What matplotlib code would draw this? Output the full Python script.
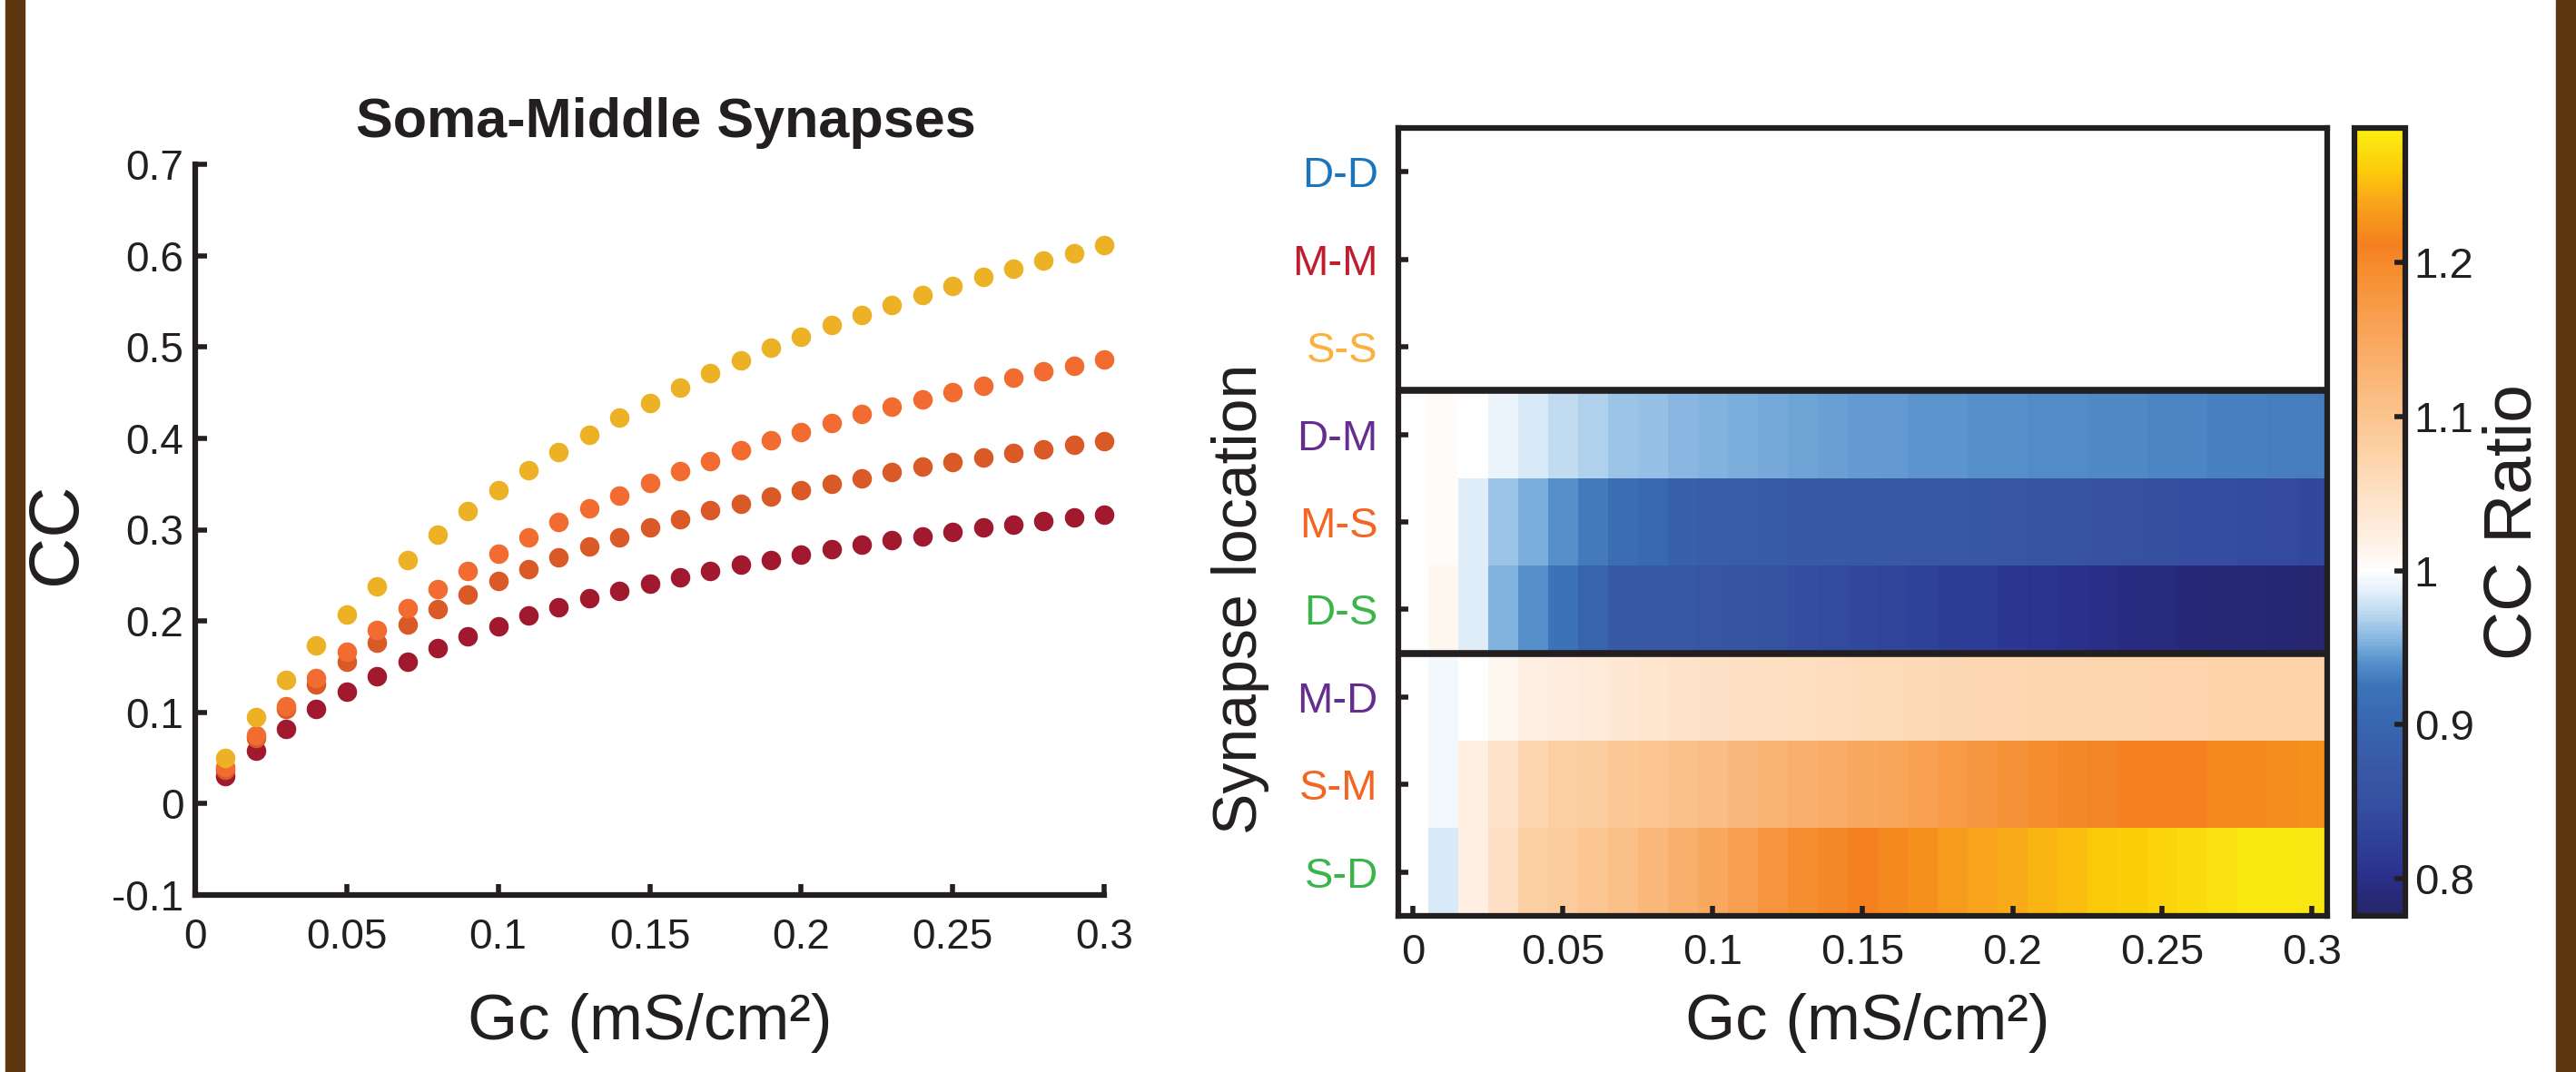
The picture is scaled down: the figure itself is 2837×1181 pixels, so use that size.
import numpy as np
import matplotlib
matplotlib.use("Agg")
import matplotlib.pyplot as plt
from matplotlib.colors import LinearSegmentedColormap
from matplotlib.patches import Rectangle

plt.rcParams['font.family'] = ['Liberation Sans', 'DejaVu Sans']
INK = '#231F20'

# ---- left panel: CC vs Gc, soma-middle synapses
gc = [0.01, 0.02, 0.03, 0.04, 0.05, 0.06, 0.07, 0.08, 0.09, 0.10,
      0.11, 0.12, 0.13, 0.14, 0.15, 0.16, 0.17, 0.18, 0.19, 0.20,
      0.21, 0.22, 0.23, 0.24, 0.25, 0.26, 0.27, 0.28, 0.29, 0.30]

cc_yellow = [0.050, 0.095, 0.136, 0.173, 0.207, 0.238, 0.267, 0.295, 0.320, 0.343,
             0.365, 0.385, 0.404, 0.423, 0.439, 0.456, 0.471, 0.485, 0.499, 0.511,
             0.524, 0.535, 0.546, 0.557, 0.567, 0.577, 0.586, 0.595, 0.603, 0.612]
cc_orange = [0.040, 0.075, 0.107, 0.138, 0.166, 0.190, 0.214, 0.235, 0.255, 0.274,
             0.292, 0.308, 0.323, 0.337, 0.351, 0.364, 0.375, 0.387, 0.398, 0.407,
             0.417, 0.427, 0.435, 0.443, 0.451, 0.458, 0.466, 0.473, 0.479, 0.486]
cc_darkorange = [0.037, 0.072, 0.104, 0.131, 0.155, 0.176, 0.196, 0.213, 0.229, 0.244,
                 0.257, 0.270, 0.282, 0.292, 0.302, 0.311, 0.321, 0.328, 0.336, 0.343,
                 0.350, 0.356, 0.363, 0.369, 0.374, 0.379, 0.384, 0.388, 0.393, 0.397]
cc_red = [0.030, 0.058, 0.082, 0.104, 0.123, 0.140, 0.155, 0.170, 0.183, 0.194,
          0.206, 0.215, 0.225, 0.233, 0.241, 0.248, 0.255, 0.262, 0.267, 0.273,
          0.279, 0.284, 0.289, 0.293, 0.298, 0.302, 0.305, 0.309, 0.313, 0.316]

left_xticks = [0, 0.05, 0.1, 0.15, 0.2, 0.25, 0.3]
left_xticklabels = ['0', '0.05', '0.1', '0.15', '0.2', '0.25', '0.3']
left_yticks = [-0.1, 0, 0.1, 0.2, 0.3, 0.4, 0.5, 0.6, 0.7]
left_yticklabels = ['-0.1', '0', '0.1', '0.2', '0.3', '0.4', '0.5', '0.6', '0.7']

# ---- right panel: CC ratio heatmap (columns Gc = 0 .. 0.30)
row_names = ['D-D', 'M-M', 'S-S', 'D-M', 'M-S', 'D-S', 'M-D', 'S-M', 'S-D']
row_colors = ['#1B75BC', '#BE1E2D', '#FBB040', '#662D91', '#F26522',
              '#39B54A', '#662D91', '#F26522', '#39B54A']

r_DD = [1.001, 1.001, 1.001, 1.001, 1.001, 1.001, 1.001, 1.001, 1.001, 1.001, 1.001,
        1.001, 1.001, 1.001, 1.001, 1.001, 1.001, 1.001, 1.001, 1.001, 1.001,
        1.001, 1.001, 1.001, 1.001, 1.001, 1.001, 1.001, 1.001, 1.001, 1.001]
r_MM = [1.001, 1.001, 1.001, 1.001, 1.001, 1.001, 1.001, 1.001, 1.001, 1.001, 1.001,
        1.001, 1.001, 1.001, 1.001, 1.001, 1.001, 1.001, 1.001, 1.001, 1.001,
        1.001, 1.001, 1.001, 1.001, 1.001, 1.001, 1.001, 1.001, 1.001, 1.001]
r_SS = [1.001, 1.001, 1.001, 1.001, 1.001, 1.001, 1.001, 1.001, 1.001, 1.001, 1.001,
        1.001, 1.001, 1.001, 1.001, 1.001, 1.001, 1.001, 1.001, 1.001, 1.001,
        1.001, 1.001, 1.001, 1.001, 1.001, 1.001, 1.001, 1.001, 1.001, 1.001]
r_DM = [1.000, 1.004, 1.000, 0.990, 0.982, 0.975, 0.968, 0.963, 0.960, 0.957, 0.955,
        0.952, 0.950, 0.948, 0.946, 0.945, 0.944, 0.943, 0.942, 0.941, 0.940,
        0.939, 0.938, 0.937, 0.936, 0.935, 0.934, 0.933, 0.932, 0.931, 0.930]
r_MS = [1.000, 1.004, 0.985, 0.963, 0.952, 0.940, 0.928, 0.912, 0.905, 0.890, 0.885,
        0.880, 0.878, 0.876, 0.875, 0.874, 0.872, 0.870, 0.868, 0.866, 0.864,
        0.862, 0.860, 0.857, 0.855, 0.852, 0.849, 0.846, 0.843, 0.840, 0.838]
r_DS = [1.000, 1.010, 0.985, 0.955, 0.940, 0.922, 0.895, 0.877, 0.872, 0.868, 0.865,
        0.862, 0.858, 0.848, 0.842, 0.838, 0.832, 0.828, 0.822, 0.818, 0.812,
        0.806, 0.802, 0.798, 0.795, 0.792, 0.789, 0.786, 0.784, 0.782, 0.780]
r_MD = [1.000, 0.995, 1.000, 1.010, 1.020, 1.025, 1.030, 1.035, 1.040, 1.044, 1.047,
        1.050, 1.052, 1.054, 1.056, 1.058, 1.061, 1.063, 1.065, 1.066, 1.067,
        1.068, 1.069, 1.070, 1.071, 1.072, 1.073, 1.074, 1.074, 1.075, 1.075]
r_SM = [1.000, 0.995, 1.020, 1.045, 1.068, 1.080, 1.085, 1.092, 1.098, 1.104, 1.110,
        1.118, 1.128, 1.135, 1.143, 1.148, 1.155, 1.160, 1.170, 1.178, 1.185,
        1.195, 1.200, 1.205, 1.210, 1.210, 1.211, 1.218, 1.218, 1.222, 1.224]
r_SD = [1.000, 0.983, 1.020, 1.050, 1.080, 1.087, 1.097, 1.107, 1.120, 1.135, 1.148,
        1.165, 1.180, 1.192, 1.203, 1.212, 1.218, 1.225, 1.232, 1.238, 1.243,
        1.248, 1.253, 1.258, 1.263, 1.267, 1.272, 1.277, 1.282, 1.282, 1.280]

heat_xticks = [0, 0.05, 0.1, 0.15, 0.2, 0.25, 0.3]
heat_xticklabels = ['0', '0.05', '0.1', '0.15', '0.2', '0.25', '0.3']
cbar_ticks = [0.8, 0.9, 1.0, 1.1, 1.2]
cbar_ticklabels = ['0.8', '0.9', '1', '1.1', '1.2']

vmin, vmax = 0.776, 1.287
cmap_anchors = [
    (0.776, '#26276C'), (0.790, '#28297A'), (0.805, '#2B3391'), (0.825, '#2F4199'),
    (0.850, '#3650A0'), (0.875, '#395AA6'), (0.900, '#3867AF'), (0.925, '#3D74B8'),
    (0.940, '#5590CB'), (0.955, '#85B5E0'), (0.970, '#B5D5EE'), (0.985, '#E0EEF9'),
    (1.000, '#FFFFFF'), (1.020, '#FEF0E3'), (1.050, '#FEE1C5'), (1.080, '#FDD0A3'),
    (1.100, '#FBC48F'), (1.150, '#F9A85E'), (1.200, '#F58A2A'), (1.212, '#F47F20'),
    (1.240, '#F9A51B'), (1.260, '#FDCB0A'), (1.287, '#FAEE12'),
]
cmap = LinearSegmentedColormap.from_list(
    'ccratio', [((v - vmin) / (vmax - vmin), c) for v, c in cmap_anchors])

W, H = 2837, 1181
fig = plt.figure(figsize=(W / 100, H / 100), dpi=100)
fig.patch.set_facecolor('white')

# brown side stripes
fig.add_artist(Rectangle((6 / W, 0), 21 / W, 1, transform=fig.transFigure,
                         color='#5E3610', zorder=0))
fig.add_artist(Rectangle((2815 / W, 0), 22 / W, 1, transform=fig.transFigure,
                         color='#5E3610', zorder=0))

# left scatter
ax1 = fig.add_axes([215 / W, 1 - 986 / H, 1001 / W, 805 / H])
for vals, col in [(cc_red, '#A0192F'), (cc_darkorange, '#DA5A27'),
                  (cc_orange, '#F26B30'), (cc_yellow, '#ECB125')]:
    ax1.plot(gc, vals, 'o', ms=15.5, color=col, mec='none', clip_on=False)
ax1.set_xlim(0, 0.3)
ax1.set_ylim(-0.1, 0.7)
for s in ['top', 'right']:
    ax1.spines[s].set_visible(False)
for s in ['left', 'bottom']:
    ax1.spines[s].set_linewidth(4.5)
    ax1.spines[s].set_color(INK)
ax1.set_xticks(left_xticks, left_xticklabels)
ax1.set_yticks(left_yticks, left_yticklabels)
ax1.tick_params(direction='in', length=9, width=4, labelsize=33, color=INK,
                labelcolor=INK)
ax1.tick_params(axis='x', pad=18)
ax1.tick_params(axis='y', pad=9)

fig.text(733 / W, 1 - 136 / H, 'Soma-Middle Synapses', ha='center', va='center',
         fontsize=44, fontweight='bold', color=INK)
fig.text(63 / W, 1 - 588 / H, 'CC', rotation=90, ha='center', va='center',
         fontsize=56, color=INK)
fig.text(716 / W, 1 - 1145 / H, 'Gc (mS/cm²)', ha='center', va='baseline',
         fontsize=51, color=INK)

# right heatmap
data = np.array([r_DD, r_MM, r_SS, r_DM, r_MS, r_DS, r_MD, r_SM, r_SD])
ax2 = fig.add_axes([1540 / W, 1 - 1009 / H, 1023 / W, 868 / H])
im = ax2.imshow(data, cmap=cmap, vmin=vmin, vmax=vmax, aspect='auto',
                interpolation='nearest', extent=(-0.005, 0.305, 8.5, -0.5))
ax2.axhline(2.5, color=INK, lw=5.5)
ax2.axhline(5.5, color=INK, lw=5.5)
for s in ax2.spines.values():
    s.set_linewidth(4.5)
    s.set_color(INK)
ax2.set_xticks(heat_xticks, heat_xticklabels)
ax2.set_yticks(range(len(row_names)), row_names)
ax2.tick_params(direction='in', length=8, width=4, labelsize=34, color=INK,
                labelcolor=INK)
ax2.tick_params(axis='x', pad=14)
ax2.tick_params(axis='y', pad=16)
for lab, col in zip(ax2.get_yticklabels(), row_colors):
    lab.set_color(col)

fig.text(2057 / W, 1 - 1145 / H, 'Gc (mS/cm²)', ha='center', va='baseline',
         fontsize=51, color=INK)
fig.text(1366 / W, 1 - 660 / H, 'Synapse location', rotation=90, ha='center',
         va='center', fontsize=49, color=INK)

# colorbar
cax = fig.add_axes([2593 / W, 1 - 1009 / H, 56 / W, 868 / H])
cb = fig.colorbar(im, cax=cax, ticks=cbar_ticks)
cb.set_ticklabels(cbar_ticklabels)
cb.outline.set_linewidth(4.5)
cb.outline.set_edgecolor(INK)
cax.tick_params(direction='in', length=9, width=4, labelsize=34, color=INK,
                labelcolor=INK, pad=7)
fig.text(2768 / W, 1 - 575 / H, 'CC Ratio', rotation=90, ha='center', va='center',
         fontsize=54, color=INK)

fig.savefig('out.png', dpi=100)
